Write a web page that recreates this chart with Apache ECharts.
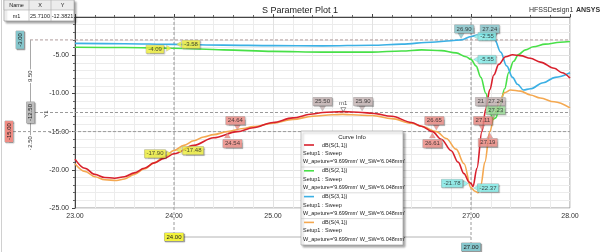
<!DOCTYPE html>
<html><head><meta charset="utf-8">
<script src="https://cdn.jsdelivr.net/npm/echarts@6/dist/echarts.min.js"></script>
<style>html,body{margin:0;padding:0;background:#fff}#c{width:600px;height:252px}</style>
</head><body><div id="c"></div>
<script>
// ---------------- data ----------------
const s11Freq = [23.0,23.1,23.2,23.3,23.4,23.5,23.6,23.7,23.8,23.9,24.0,24.2,24.4,24.64,24.8,25.0,25.2,25.4,25.5,25.71,25.9,26.0,26.2,26.4,26.5,26.61,26.7,26.8,26.87,26.93,26.98,27.0,27.02,27.06,27.11,27.15,27.19,27.23,27.28,27.35,27.42,27.5,27.6,27.7,27.84,27.92,28.0];
const s11dB   = [-18.6,-19.8,-20.6,-21.0,-21.1,-20.9,-20.4,-19.8,-19.1,-18.5,-17.9,-16.8,-15.8,-15.0,-14.5,-13.8,-13.2,-12.7,-12.5,-12.38,-12.5,-12.6,-13.0,-13.8,-14.3,-15.0,-16.0,-17.5,-19.0,-20.5,-21.6,-21.78,-22.2,-19.8,-15.0,-12.0,-9.5,-7.6,-6.2,-5.2,-4.95,-5.05,-5.4,-5.9,-6.7,-7.3,-8.0];

const s21Freq = [23.0,23.5,24.0,24.5,25.0,25.5,26.0,26.3,26.5,26.7,26.85,26.95,27.0,27.05,27.1,27.15,27.19,27.22,27.25,27.29,27.34,27.38,27.43,27.48,27.55,27.63,27.75,27.9,28.0];
const s21dB   = [-3.95,-4.0,-4.09,-4.3,-4.5,-4.6,-4.6,-4.45,-4.3,-4.4,-4.7,-5.2,-5.55,-6.4,-7.9,-10.0,-12.3,-13.4,-13.2,-11.8,-9.4,-7.3,-5.8,-4.9,-4.3,-3.9,-3.55,-3.3,-3.2];

const s31Freq = [23.0,23.5,24.0,24.5,25.0,25.5,26.0,26.3,26.6,26.8,26.9,27.0,27.1,27.17,27.24,27.3,27.36,27.42,27.47,27.53,27.6,27.73,27.85,28.0];
const s31dB   = [-3.45,-3.5,-3.58,-3.68,-3.75,-3.78,-3.7,-3.55,-3.3,-3.1,-3.0,-2.55,-2.25,-2.35,-3.0,-4.6,-6.4,-7.9,-8.8,-9.55,-9.4,-8.6,-7.9,-7.3];

const s41Freq = [23.0,23.1,23.2,23.3,23.42,23.5,23.6,23.7,23.8,23.9,24.0,24.1,24.2,24.3,24.4,24.54,24.7,24.8,25.0,25.2,25.4,25.6,25.7,25.8,26.0,26.2,26.4,26.5,26.65,26.75,26.85,26.93,27.0,27.04,27.07,27.1,27.14,27.19,27.24,27.29,27.34,27.4,27.5,27.6,27.7,27.84,28.0];
const s41dB   = [-19.2,-20.2,-20.9,-21.3,-21.4,-21.2,-20.6,-19.9,-19.1,-18.3,-17.48,-16.8,-16.2,-15.7,-15.4,-15.0,-14.6,-14.35,-13.9,-13.4,-13.0,-12.8,-12.75,-12.8,-12.9,-13.3,-13.9,-14.3,-15.0,-15.9,-17.3,-19.2,-22.37,-22.8,-23.0,-22.0,-19.0,-15.0,-12.6,-11.0,-9.9,-9.55,-9.7,-10.2,-10.6,-11.1,-11.9];

const seriesNames = ['dB(S(1,1))','dB(S(2,1))','dB(S(3,1))','dB(S(4,1))'];
const setupText = 'Setup1 : Sweep';
const variationText = "W_apeture='9.699mm' W_SW='6.048mm'";

const xCursors = [24.0, 27.0];
const yCursors = [-3.0, -12.5, -15.0];

const markerName = 'm1';
const markerX = 25.71;
const markerY = -12.3821;

// annotation labels (text, anchor x, anchor y)
const annText = ['-4.09','-3.58','-17.90','-17.48','24.64','24.54','25.50','25.90','26.65','26.61','27.11','27.19','21','27.24','27.23','-21.78','-22.37','-5.55','26.90','27.24','-2.55'];
const annX    = [24.0,24.0,24.0,24.0,24.64,24.54,25.50,25.90,26.65,26.61,27.11,27.19,27.21,27.24,27.23,27.0,27.0,27.0,26.90,27.24,27.0];
const annY    = [-4.09,-3.58,-17.90,-17.48,-15,-15,-12.5,-12.5,-15,-15,-15,-15,-12.5,-12.5,-13.4,-21.78,-22.37,-5.55,-3.0,-3.0,-2.55];

// ---------------- styles (not data) ----------------
const annOffset = [[-19,1],[17,0],[-19,0],[19,0],[-2,-11],[5,12],[0,-11],[1,-11],[-2,-11],[0,12],[1,-11],[-2,11],[-11,-11],[1,-11],[2,-9],[-19,0],[17,0],[16,0],[3,-11],[-5,-11],[16,0]];
const annDir    = ['r','l','r','l','d','u','d','d','d','u','d','u','d','d','d','r','l','l','d','d','l'];
const YEL='#f2f23c', SAL='#f08c84', GRY='#c8b6b6', CYN='#84f0ec', TEA='#86c6cc', GRN='#9ee09a';
const annColor  = [YEL,YEL,YEL,YEL,SAL,SAL,GRY,GRY,SAL,SAL,SAL,SAL,GRY,GRY,GRN,CYN,CYN,CYN,TEA,TEA,CYN];
const colors = ['#d8202c','#48e048','#3cb0e4','#f4a850'];
const FONT = '"Liberation Sans", Arial, sans-serif';

function pairs(f, d){ return f.map((v,i)=>[v,d[i]]); }
const chart = echarts.init(document.getElementById('c'));

function lineSeries(i, f, d, z){
  return {type:'line', name:seriesNames[i], data:pairs(f,d), showSymbol:false, smooth:0.35, smoothMonotone:'x',
    lineStyle:{color:colors[i], width:1.6}, itemStyle:{color:colors[i]}, z:z, silent:true};
}
const rotFor = {d:180, u:0, l:90, r:-90};
const ptrOff = {d:[0,-4], u:[0,4], l:[5,0], r:[-5,0]};

chart.setOption({
  animation:false,
  title:{text:'S Parameter Plot 1', left:'center', top:1, textStyle:{fontFamily:FONT, fontSize:9, fontWeight:'normal', color:'#222'}},
  grid:{left:75, right:30, top:17, bottom:44, show:true, borderColor:'#9a9a9a', borderWidth:1},
  xAxis:{type:'value', min:23, max:28, interval:1,
    axisLine:{lineStyle:{color:'#444'}}, axisTick:{inside:true, length:3, lineStyle:{color:'#444'}},
    minorTick:{show:true, splitNumber:5, length:2, lineStyle:{color:'#666'}},
    axisLabel:{fontFamily:FONT, fontSize:7, color:'#333', margin:5, formatter:v=>v.toFixed(2)},
    splitLine:{show:true, lineStyle:{color:'#e2e2e2'}},
    minorSplitLine:{show:true, lineStyle:{color:'#ececec'}}},
  yAxis:{type:'value', min:-25, max:0, interval:5,
    axisLine:{show:true, lineStyle:{color:'#444'}}, axisTick:{show:true, length:3, lineStyle:{color:'#444'}},
    minorTick:{show:true, splitNumber:5, length:2, lineStyle:{color:'#666'}},
    axisLabel:{fontFamily:FONT, fontSize:7, color:'#333', margin:6, formatter:v=>v.toFixed(2)},
    splitLine:{show:true, lineStyle:{color:'#e2e2e2'}},
    minorSplitLine:{show:true, lineStyle:{color:'#ececec'}}},
  series:[
    lineSeries(1, s21Freq, s21dB, 3),
    lineSeries(2, s31Freq, s31dB, 4),
    lineSeries(3, s41Freq, s41dB, 5),
    lineSeries(0, s11Freq, s11dB, 6),
    {type:'scatter', silent:true, z:9,
      data: annText.map((t,i)=>({value:[annX[i],annY[i]], symbol:'triangle', symbolSize:[6,5], symbolRotate:rotFor[annDir[i]], symbolOffset:ptrOff[annDir[i]], itemStyle:{color:annColor[i], borderColor:'#888', borderWidth:0.3}}))},
    {type:'scatter', silent:true, z:10, symbolSize:0,
      data: annText.map((t,i)=>({value:[annX[i],annY[i]], label:{show:true, position:'inside', formatter:t, offset:annOffset[i],
        fontFamily:FONT, fontSize:6, color:'#222', backgroundColor:annColor[i], padding:[1,2,1,2], borderColor:'#999', borderWidth:0.4,
        shadowColor:'rgba(0,0,0,0.25)', shadowOffsetX:1, shadowOffsetY:1, shadowBlur:1}}))},
    {type:'scatter', silent:true, z:11, data:[{value:[markerX, markerY], symbol:'triangle', symbolRotate:180, symbolSize:[5,4], symbolOffset:[0,-2],
      itemStyle:{color:'#fff', borderColor:'#333', borderWidth:0.6},
      label:{show:true, position:'top', distance:1, formatter:markerName, fontFamily:FONT, fontSize:6, color:'#222'}}]}
  ]
});

function P(x,y){ return chart.convertToPixel({gridIndex:0},[x,y]); }
const g = [];
const topY = P(23,0)[1], botY = P(23,-25)[1], rightX = P(28,0)[0];
// vertical x cursors
const xc0 = P(xCursors[0],0)[0], xc1 = P(xCursors[1],0)[0];
g.push({type:'line', shape:{x1:xc0,y1:topY,x2:xc0,y2:237}, style:{stroke:'#9a9a9a', lineWidth:1, lineDash:[3,2]}, z:2});
g.push({type:'line', shape:{x1:xc1,y1:topY,x2:xc1,y2:247}, style:{stroke:'#9a9a9a', lineWidth:1, lineDash:[3,2]}, z:2});
g.push({type:'line', shape:{x1:xc0,y1:237,x2:xc1,y2:237}, style:{stroke:'#b4b4b4', lineWidth:1}, z:2});
function box(x,y,txt,col,rot){
  return {type:'text', x:x, y:y, rotation:rot?Math.PI/2:0, z:20, style:{text:txt, fontFamily:FONT, fontSize:6, fill:'#222', align:'center', verticalAlign:'middle',
    backgroundColor:col, padding:[1,2,1,2], borderColor:'#999', borderWidth:0.4, shadowColor:'rgba(0,0,0,0.25)', shadowOffsetX:1, shadowOffsetY:1, shadowBlur:1}};
}
g.push(box(xc0, 237, xCursors[0].toFixed(2), YEL, false));
g.push(box(xc1, 247, xCursors[1].toFixed(2), TEA, false));
// horizontal y cursors
const yc = yCursors.map(v=>P(23,v)[1]);
g.push({type:'line', shape:{x1:30,y1:yc[0],x2:rightX,y2:yc[0]}, style:{stroke:'#b09c9c', lineWidth:1, lineDash:[3,2]}, z:2});
g.push({type:'line', shape:{x1:30,y1:yc[1],x2:rightX,y2:yc[1]}, style:{stroke:'#9a9a9a', lineWidth:1, lineDash:[3,2]}, z:2});
g.push({type:'line', shape:{x1:13,y1:yc[2],x2:rightX,y2:yc[2]}, style:{stroke:'#9a9a9a', lineWidth:1, lineDash:[3,2]}, z:2});
g.push({type:'line', shape:{x1:30.5,y1:yc[0],x2:30.5,y2:150}, style:{stroke:'#a8a8a8', lineWidth:1}, z:2});
g.push(box(20, yc[0], yCursors[0].toFixed(2), TEA, true));
g.push(box(30.5, yc[1], yCursors[1].toFixed(2), '#bdbdbd', true));
g.push(box(9, yc[2], yCursors[2].toFixed(2), SAL, true));
function rtext(x,y,txt,bg){ return {type:'text', x:x, y:y, rotation:Math.PI/2, z:20, style:{text:txt, fontFamily:FONT, fontSize:6, fill:'#333', align:'center', verticalAlign:'middle', backgroundColor:bg||'transparent', padding:[0,1]}}; }
g.push(rtext(30.5, (yc[0]+yc[1])/2, (yCursors[0]-yCursors[1]).toFixed(2), '#fff'));
g.push(rtext(30.5, 142, (yCursors[1]-yCursors[2]).toFixed(2), '#fff'));
g.push(rtext(46, 114, 'Y1'));
// header texts
g.push({type:'text', x:529, y:10, z:20, style:{text:'HFSSDesign1', fontFamily:FONT, fontSize:7, fill:'#333', verticalAlign:'middle'}});
g.push({type:'text', x:576, y:10, z:20, style:{text:'ANSYS', fontFamily:FONT, fontSize:7, fontWeight:'bold', fill:'#333', verticalAlign:'middle'}});
// marker table
g.push({type:'rect', shape:{x:4,y:0,width:70,height:21}, style:{fill:'#fff', stroke:'#888', lineWidth:0.6, shadowColor:'rgba(0,0,0,0.35)', shadowOffsetX:2, shadowOffsetY:2, shadowBlur:2}, z:30});
g.push({type:'rect', shape:{x:4,y:0,width:70,height:10}, style:{fill:'#ececec', stroke:'#999', lineWidth:0.5}, z:30});
g.push({type:'line', shape:{x1:29,y1:0,x2:29,y2:21}, style:{stroke:'#aaa', lineWidth:0.6}, z:31});
g.push({type:'line', shape:{x1:51,y1:0,x2:51,y2:21}, style:{stroke:'#aaa', lineWidth:0.6}, z:31});
const tcell=(x,y,t)=>({type:'text', x:x, y:y, z:32, style:{text:t, fontFamily:FONT, fontSize:5.5, fill:'#222', align:'center', verticalAlign:'middle'}});
g.push(tcell(16.5,5,'Name'), tcell(40,5,'X'), tcell(62.5,5,'Y'));
g.push(tcell(16.5,16,markerName), tcell(40,16,markerX.toFixed(4)), tcell(62.5,16,markerY.toFixed(4)));
// legend
const L = {x:301, y:131, w:102, h:114};
g.push({type:'rect', shape:{x:L.x,y:L.y,width:L.w,height:L.h}, style:{fill:'#fff', stroke:'#999', lineWidth:0.6, shadowColor:'rgba(0,0,0,0.35)', shadowOffsetX:2, shadowOffsetY:2, shadowBlur:2}, z:30});
g.push({type:'text', x:L.x+L.w/2, y:137, z:31, style:{text:'Curve Info', fontFamily:FONT, fontSize:6, fill:'#222', align:'center', verticalAlign:'middle'}});
const lt=(x,y,t)=>({type:'text', x:x, y:y, z:31, style:{text:t, fontFamily:FONT, fontSize:5.5, fill:'#222', verticalAlign:'middle'}});
for(let i=0;i<4;i++){
  const by = 145 + i*25.8;
  g.push({type:'line', shape:{x1:304,y1:by,x2:314,y2:by}, style:{stroke:colors[i], lineWidth:1.6}, z:31});
  g.push(lt(322, by, seriesNames[i]));
  g.push(lt(303, by+8.4, setupText));
  g.push(lt(303, by+16.8, variationText));
  if(i<3) g.push({type:'line', shape:{x1:L.x,y1:by+22,x2:L.x+L.w,y2:by+22}, style:{stroke:'#bbb', lineWidth:0.5}, z:31});
}
// page border
g.push({type:'line', shape:{x1:1.5,y1:0,x2:1.5,y2:252}, style:{stroke:'#d0d0d0', lineWidth:1}, z:1});
chart.setOption({graphic:g});
</script></body></html>
